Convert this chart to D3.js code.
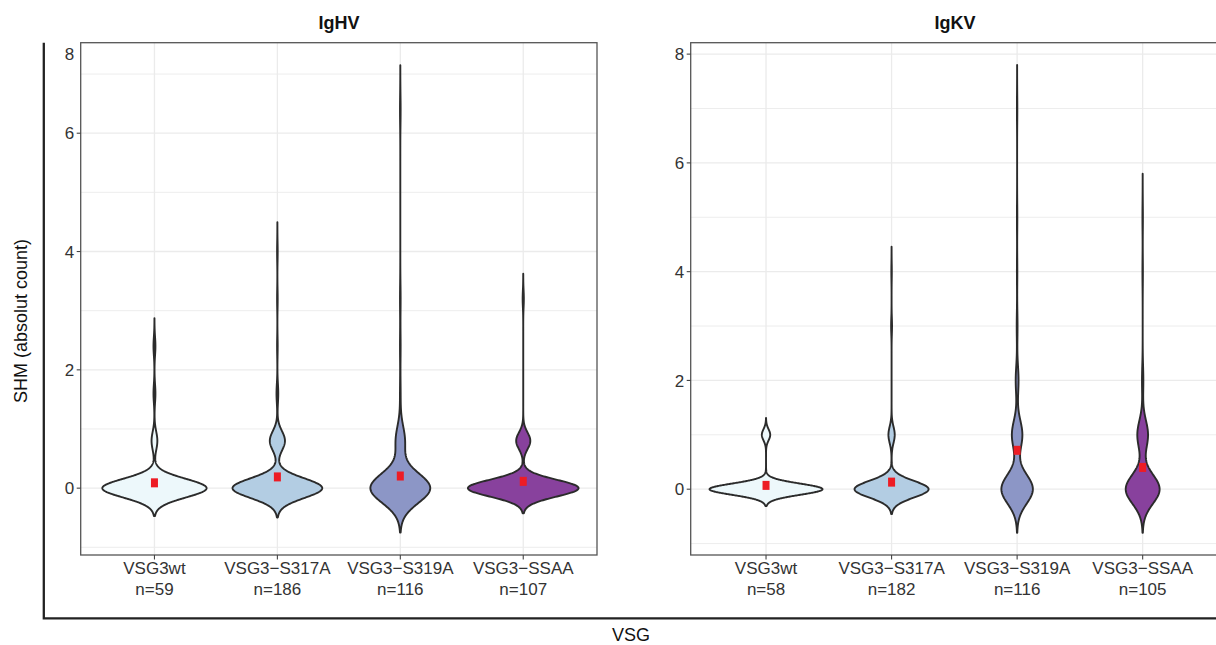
<!DOCTYPE html>
<html><head><meta charset="utf-8">
<script src="https://cdn.jsdelivr.net/npm/d3@7"></script>
<style>body{margin:0;background:#fff} text{font-family:"Liberation Sans",Arial,Helvetica,sans-serif}</style>
</head><body><svg id="c" width="1216" height="645"></svg>
<script>
// ---------- data ----------
const categories = ["VSG3wt", "VSG3\u2212S317A", "VSG3\u2212S319A", "VSG3\u2212SSAA"];
const fillColors = ["#EDF8FB", "#B3CDE3", "#8C96C6", "#88419D"];

// IgHV: distinct SHM values and how many sequences have each value
const hvValues = [
  [0, 0.8, 1.6, 2.4],
  [0, 0.8, 1.6, 2.4, 3.2, 4.0],
  [0, 0.8, 1.6, 2.4, 3.2, 6.4],
  [0, 0.8, 3.2]
];
const hvCounts = [
  [54, 3, 1, 1],
  [154, 26, 3, 1, 1, 1],
  [97, 15, 1, 1, 1, 1],
  [94, 12, 1]
];
const hvBandwidth = [0.157, 0.165, 0.25, 0.142];
const hvMeans = [0.09, 0.19, 0.205, 0.115];

// IgKV
const kvValues = [
  [0, 1],
  [0, 1, 3, 4],
  [0, 1, 2, 3, 4, 5, 7],
  [0, 1, 2, 4, 5]
];
const kvCounts = [
  [54, 4],
  [165, 14, 2, 1],
  [78, 26, 7, 2, 1, 1, 1],
  [76, 24, 3, 1, 1]
];
const kvBandwidth = [0.103, 0.153, 0.267, 0.267];
const kvMeans = [0.07, 0.13, 0.715, 0.40];

const hvTicks = [0, 2, 4, 6];
const kvTicks = [0, 2, 4, 6, 8];
const minorTicks = [-1, 1, 3, 5, 7];
const hvStrayLabel = "8";   // label printed at the top of the IgHV axis without a tick

// ---------- drawing ----------
const svg = d3.select("#c");
const yTop = 42.7, yBottom = 555;

const panels = [
  {title: "IgHV", x0: 80.7, x1: 597, yDom: [-1.13, 7.53], values: hvValues, counts: hvCounts, bw: hvBandwidth, means: hvMeans, ticks: hvTicks, tx: 339},
  {title: "IgKV", x0: 690.7, x1: 1218, yDom: [-1.21, 8.21], values: kvValues, counts: kvCounts, bw: kvBandwidth, means: kvMeans, ticks: kvTicks, tx: 955}
];

const yKV = d3.scaleLinear().domain(panels[1].yDom).range([yBottom, yTop]);

panels.forEach((p, pi) => {
  const x = d3.scalePoint().domain(categories).range([p.x0, p.x1]).padding(0.6);
  const y = d3.scaleLinear().domain(p.yDom).range([yBottom, yTop]);
  const g = svg.append("g");
  const clipId = "clip" + pi;
  svg.append("clipPath").attr("id", clipId).append("rect")
    .attr("x", p.x0).attr("y", yTop).attr("width", p.x1 - p.x0).attr("height", yBottom - yTop);

  g.append("rect").attr("x", p.x0).attr("y", yTop).attr("width", p.x1 - p.x0).attr("height", yBottom - yTop).attr("fill", "#fff");

  const inner = g.append("g").attr("clip-path", `url(#${clipId})`);
  // grid
  inner.selectAll(".minor").data(minorTicks).join("line")
    .attr("x1", p.x0).attr("x2", p.x1).attr("y1", d => y(d)).attr("y2", d => y(d))
    .attr("stroke", "#EBEBEB").attr("stroke-width", 0.9);
  inner.selectAll(".major").data(p.ticks).join("line")
    .attr("x1", p.x0).attr("x2", p.x1).attr("y1", d => y(d)).attr("y2", d => y(d))
    .attr("stroke", "#EBEBEB").attr("stroke-width", 1.3);
  inner.selectAll(".vmajor").data(categories).join("line")
    .attr("x1", d => x(d)).attr("x2", d => x(d)).attr("y1", yTop).attr("y2", yBottom)
    .attr("stroke", "#EBEBEB").attr("stroke-width", 1.3);

  // densities
  const dens = categories.map((c, i) => {
    const vals = p.values[i], cnt = p.counts[i], bw = p.bw[i];
    const n = d3.sum(cnt);
    const lo = d3.min(vals) - 3 * bw, hi = d3.max(vals) + 3 * bw;
    const pts = d3.range(512).map(k => {
      const yy = lo + (hi - lo) * k / 511;
      let s = 0;
      vals.forEach((v, j) => { const z = (yy - v) / bw; s += cnt[j] * Math.exp(-0.5 * z * z); });
      return {y: yy, d: s / (n * bw * Math.sqrt(2 * Math.PI))};
    });
    return {cat: c, n, pts};
  });
  const maxD = d3.max(dens, v => d3.max(v.pts, q => q.d));
  const halfMax = 0.45 * x.step();
  const wScale = d3.scaleLinear().domain([0, maxD]).range([0, halfMax]);

  dens.forEach((v, i) => {
    const cx = x(v.cat);
    const area = d3.area()
      .y(q => y(q.y))
      .x0(q => cx - wScale(q.d))
      .x1(q => cx + wScale(q.d));
    inner.append("path").attr("d", area(v.pts))
      .attr("fill", fillColors[i]).attr("stroke", "#2b2b2b").attr("stroke-width", 1.9)
      .attr("stroke-linejoin", "round");
  });

  // means
  inner.selectAll(".mean").data(p.means).join("rect")
    .attr("x", (d, i) => x(categories[i]) - 3.5).attr("y", d => y(d) - 4.5)
    .attr("width", 7).attr("height", 9).attr("fill", "#ED1C24");

  // border
  g.append("rect").attr("x", p.x0).attr("y", yTop).attr("width", p.x1 - p.x0).attr("height", yBottom - yTop)
    .attr("fill", "none").attr("stroke", "#555").attr("stroke-width", 1.3);

  // y axis
  g.selectAll(".yt").data(p.ticks).join("line")
    .attr("x1", p.x0 - 4).attr("x2", p.x0).attr("y1", d => y(d)).attr("y2", d => y(d))
    .attr("stroke", "#444").attr("stroke-width", 1.1);
  g.selectAll(".yl").data(p.ticks).join("text")
    .attr("x", p.x0 - 6.5).attr("y", d => y(d)).attr("dy", "0.36em")
    .attr("text-anchor", "end").attr("font-size", 17).attr("fill", "#333").text(d => d);
  if (pi === 0) {
    g.append("text").attr("x", p.x0 - 6.5).attr("y", yKV(8)).attr("dy", "0.36em")
      .attr("text-anchor", "end").attr("font-size", 17).attr("fill", "#333").text(hvStrayLabel);
  }

  // x axis
  g.selectAll(".xt").data(categories).join("line")
    .attr("x1", d => x(d)).attr("x2", d => x(d)).attr("y1", yBottom).attr("y2", yBottom + 4.5)
    .attr("stroke", "#444").attr("stroke-width", 1.1);
  const xl = g.selectAll(".xl").data(dens).join("text")
    .attr("text-anchor", "middle").attr("font-size", 17).attr("fill", "#333");
  xl.append("tspan").attr("x", d => x(d.cat)).attr("y", 574).text(d => d.cat);
  xl.append("tspan").attr("x", d => x(d.cat)).attr("y", 594.5).text(d => "n=" + d.n);

  // strip title
  g.append("text").attr("x", p.tx).attr("y", 29).attr("text-anchor", "middle")
    .attr("font-size", 18).attr("font-weight", "bold").attr("fill", "#111").text(p.title);
});

// outer axis lines
svg.append("path").attr("d", d3.line()([[43.8, 42.7], [43.8, 618.3], [1216, 618.3]]))
  .attr("fill", "none").attr("stroke", "#222").attr("stroke-width", 2.3);

// axis titles
svg.append("text").attr("transform", "translate(27,321) rotate(-90)")
  .attr("text-anchor", "middle").attr("font-size", 18).attr("fill", "#111").text("SHM (absolut count)");
svg.append("text").attr("x", 631).attr("y", 641).attr("text-anchor", "middle")
  .attr("font-size", 18).attr("fill", "#111").text("VSG");
</script>
</body></html>
